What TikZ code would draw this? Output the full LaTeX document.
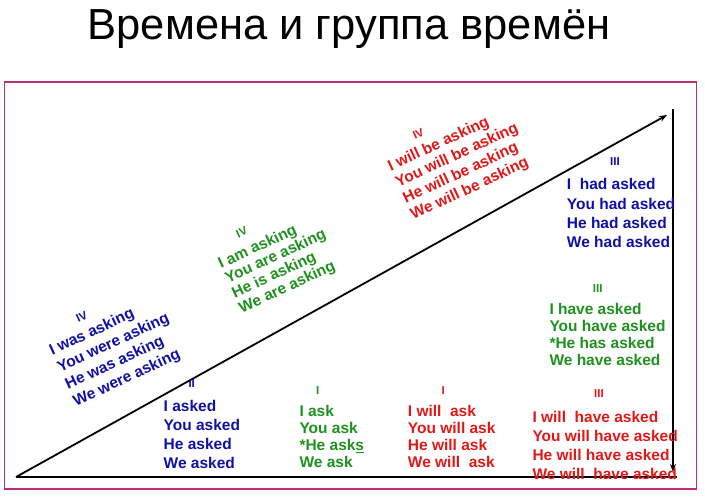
\documentclass[tikz,border=0pt]{standalone}
\usepackage{fontspec}
\setmainfont{Liberation Sans}
\usepackage{xcolor}
\definecolor{tenseblue}{RGB}{16,16,166}
\definecolor{tensegreen}{RGB}{30,145,30}
\definecolor{tensered}{RGB}{226,24,24}
\definecolor{framepink}{RGB}{190,45,120}
\usetikzlibrary{arrows.meta}

\begin{document}
\begin{tikzpicture}[x=1pt,y=-1pt,
    tense/.style={align=left,inner sep=0pt,anchor=base west,
        font=\bfseries\fontsize{15.5}{#1}\selectfont},
    tense/.default=19,
    numeral/.style={inner sep=0pt,font=\bfseries\fontsize{11.5}{13}\selectfont},
    axis/.style={line width=2.4pt,black},
    slope/.style={line width=1.8pt,black,-{Stealth[length=8pt,width=6pt]}}]
    \useasboundingbox (0,0) rectangle (705,502);

    % title and frame
    \node[anchor=base,inner sep=0pt,font=\fontsize{43.5}{52}\selectfont] (title) at (349,40) {Времена и группа времён};
    \draw[framepink,line width=1.2pt] (4.5,82) rectangle (696.5,489);

    % axes
    \coordinate (origin) at (16,477);
    \coordinate (baseend) at (677,477);
    \coordinate (tip) at (667,115);
    \coordinate (vtop) at (673,109);
    \coordinate (vend) at (673,472);
    \draw[axis] (origin) -- (baseend);
    \draw[slope] (origin) -- (tip);
    \draw[line width=2.2pt,-{Stealth[length=8pt,width=6pt]}] (vtop) -- (vend);

    % continuous, along the slope (placed by the last line)
    \node[numeral,tenseblue,rotate=25] (pcnum) at (81.7,316.7) {IV};
    \node[tense=18.8,tenseblue,rotate=25] (pastcont) at (76,406.7)
        {I was asking\\You were asking\\He was asking\\We were asking};
    \node[numeral,tensegreen,rotate=25] (prcnum) at (241.7,232.3) {IV};
    \node[tense=16.3,tensegreen,rotate=25] (prescont) at (241.7,313.3)
        {I am asking\\You are asking\\He is asking\\We are asking};
    \node[numeral,tensered,rotate=25] (fcnum) at (418.3,134) {IV};
    \node[tense=17.9,tensered,rotate=25] (futcont) at (413.3,220)
        {I will be asking\\You will be asking\\He will be asking\\We will be asking};

    % simple, on the ground
    \node[numeral,tenseblue] (psnum) at (191.7,384) {II};
    \node[tense=19.3,tenseblue] (pastsimple) at (163.5,469)
        {I asked\\You asked\\He asked\\We asked};
    \node[numeral,tensegreen] (prsnum) at (317.7,391) {I};
    \node[tense=17.2,tensegreen] (pressimple) at (299.3,467.7)
        {I ask\\You ask\\*He ask\underline{s}\\We ask};
    \node[numeral,tensered] (fsnum) at (443.3,391) {I};
    \node[tense=17.2,tensered] (futsimple) at (407.7,467.7)
        {I will\ \ ask\\You will ask\\He will ask\\We will\ \ ask};

    % perfect, up the wall
    \node[numeral,tenseblue] (ppnum) at (615,162) {III};
    \node[tense=19.4,tenseblue] (pastperf) at (566.7,248)
        {I\ \ had asked\\You had asked\\He had asked\\We had asked};
    \node[numeral,tensegreen] (prpnum) at (597.7,288.7) {III};
    \node[tense=17.3,tensegreen] (presperf) at (549.3,366)
        {I have asked\\You have asked\\*He has asked\\We have asked};
    \node[numeral,tensered] (fpnum) at (599,394) {III};
    \node[tense=19.1,tensered] (futperf) at (532.3,480)
        {I will\ \ have asked\\You will have asked\\He will have asked\\We will\ \ have asked};
\end{tikzpicture}
\end{document}
